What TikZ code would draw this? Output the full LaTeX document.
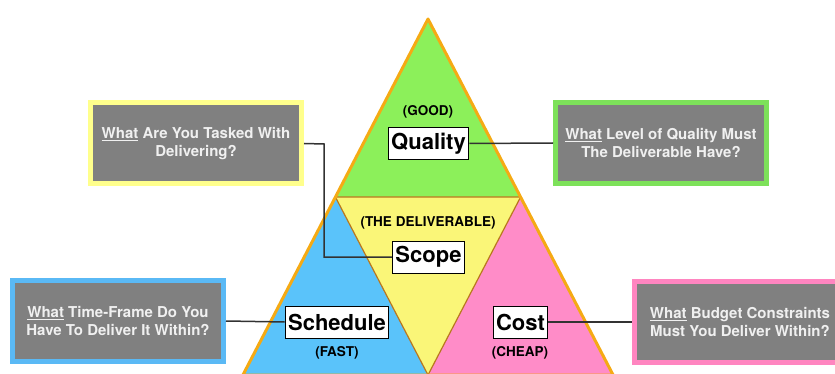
\documentclass[tikz,border=0pt]{standalone}
\usepackage{fontspec}
\setmainfont{TeX Gyre Heros}
\begin{document}
\begin{tikzpicture}[x=1pt,y=-1pt,
  qbox/.style={fill=boxgray,line width=5pt,minimum width=211pt,minimum height=81pt,
    inner sep=0pt,align=center,text=boxtext,font=\bfseries\fontsize{15}{18.5}\selectfont},
  tag/.style={draw=black,fill=white,line width=1pt,inner xsep=3pt,inner ysep=0pt,
    minimum height=32pt,font=\bfseries\fontsize{22}{24}\selectfont},
  hint/.style={inner sep=0pt,font=\bfseries\fontsize{13.5}{16}\selectfont},
  link/.style={draw=linkgray,line width=1.5pt}]
\definecolor{boxgray}{RGB}{128,128,128}
\definecolor{boxtext}{RGB}{240,240,240}
\definecolor{linkgray}{RGB}{50,50,50}
\definecolor{tgreen}{RGB}{140,240,90}
\definecolor{tyellow}{RGB}{250,246,120}
\definecolor{tblue}{RGB}{90,195,250}
\definecolor{tpink}{RGB}{255,140,200}
\definecolor{edgeorange}{RGB}{245,170,20}
\definecolor{edgebrown}{RGB}{185,120,30}
\definecolor{bdyellow}{RGB}{255,255,140}
\definecolor{bdgreen}{RGB}{125,225,90}
\definecolor{bdblue}{RGB}{90,185,245}
\definecolor{bdpink}{RGB}{255,133,192}

\useasboundingbox (0,0) rectangle (835,374);
\clip (0,0) rectangle (835,374);

% triangle corners
\coordinate (A)  at (428,19);
\coordinate (ML) at (335.4,197);
\coordinate (MR) at (520.6,197);
\coordinate (BL) at (242.9,375);
\coordinate (BM) at (428,375);
\coordinate (BR) at (613.1,375);

% four sub-triangles
\fill[tgreen]  (A) -- (ML) -- (MR) -- cycle;
\fill[tblue]   (ML) -- (BL) -- (BM) -- cycle;
\fill[tpink]   (MR) -- (BM) -- (BR) -- cycle;
\fill[tyellow] (ML) -- (MR) -- (BM) -- cycle;
\draw[edgebrown,line width=1.2pt,line join=round] (ML) -- (MR) -- (BM) -- cycle;
\draw[edgeorange,line width=3pt,line join=round] (A) -- (BL) -- (BR) -- cycle;

% question boxes
\node[qbox,draw=bdyellow] (qscope)    at (196,143.5) {\underline{What} Are You Tasked With\\Delivering?};
\node[qbox,draw=bdgreen]  (qquality)  at (661,143)   {\underline{What} Level of Quality Must\\The Deliverable Have?};
\node[qbox,draw=bdblue]   (qschedule) at (118,321)   {\underline{What} Time-Frame Do You\\Have To Deliver It Within?};
\node[qbox,draw=bdpink]   (qcost)     at (740,322)   {\underline{What} Budget Constraints\\Must You Deliver Within?};

% labels inside the triangle
\node[hint] (good) at (428,112) {(GOOD)};
\node[hint] (deliv) at (428,223) {(THE DELIVERABLE)};
\node[hint] (fast) at (337,353) {(FAST)};
\node[hint] (cheap) at (520,353) {(CHEAP)};

% tags
\node[tag] (quality)  at (428.5,143.5) {Quality};
\node[tag] (scope)    at (428.5,257)   {Scope};
\node[tag] (schedule) at (337,322)     {Schedule};
\node[tag] (cost)     at (520.5,322)   {Cost};

% connectors between tags and question boxes
\coordinate (bend1) at (324,144);
\coordinate (bend2) at (324,257);
\path[link] (qscope.east) -- (bend1) -- (bend2) -- (scope.west);
\path[link] (quality.east) -- (qquality.west);
\path[link] (qschedule.east) -- (schedule.west);
\path[link] (cost.east) -- (qcost.west);
\end{tikzpicture}
\end{document}
